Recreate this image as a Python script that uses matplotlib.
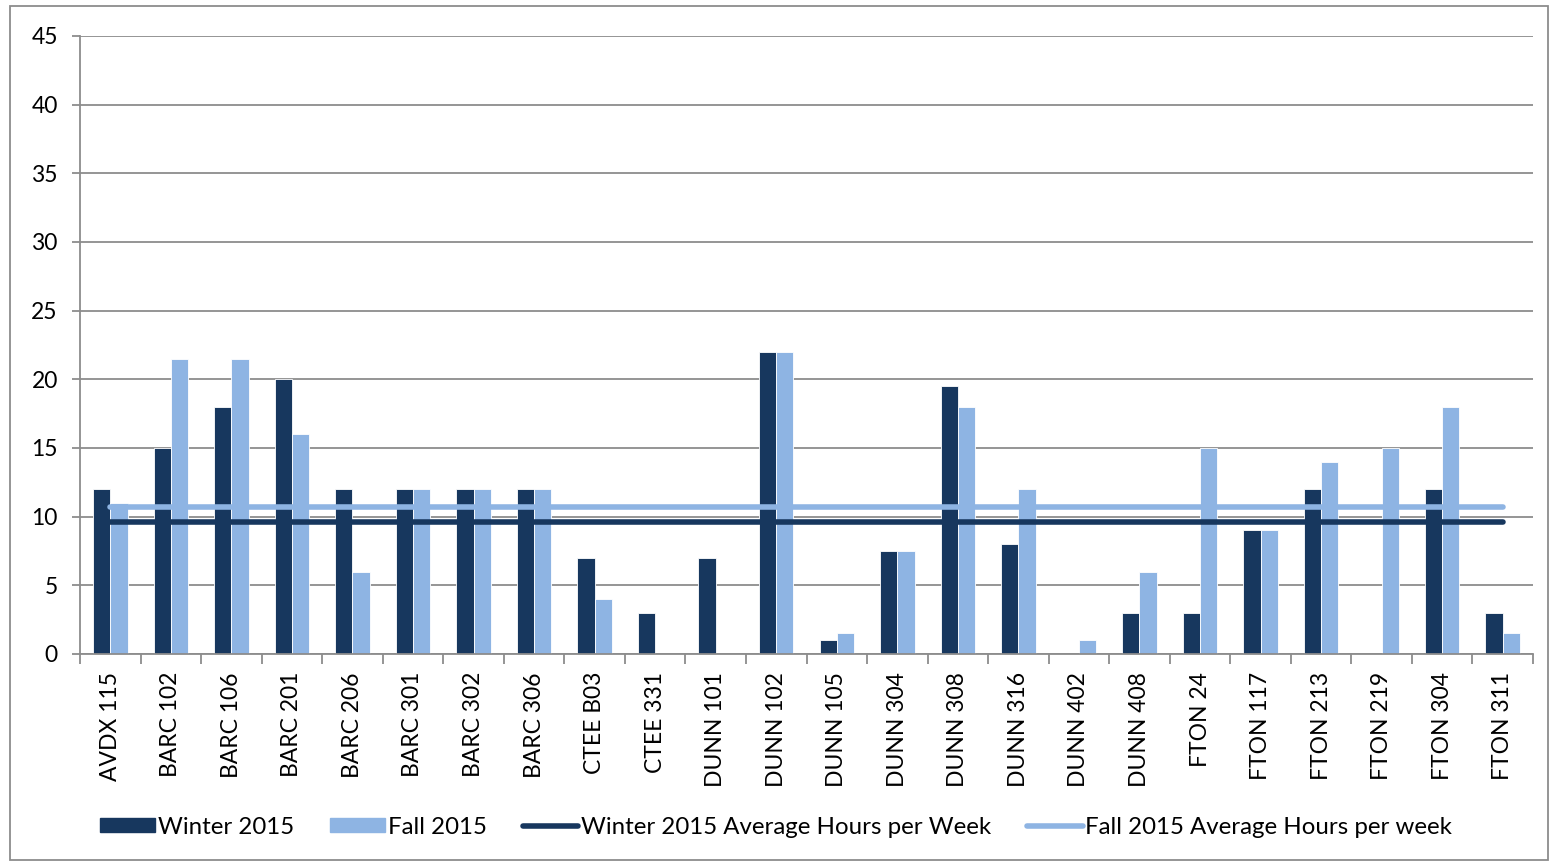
import matplotlib.pyplot as plt
import numpy as np
from matplotlib.patches import Rectangle
from matplotlib.lines import Line2D

rooms = ["AVDX 115", "BARC 102", "BARC 106", "BARC 201", "BARC 206", "BARC 301",
         "BARC 302", "BARC 306", "CTEE B03", "CTEE 331", "DUNN 101", "DUNN 102",
         "DUNN 105", "DUNN 304", "DUNN 308", "DUNN 316", "DUNN 402", "DUNN 408",
         "FTON 24", "FTON 117", "FTON 213", "FTON 219", "FTON 304", "FTON 311"]
winter = [12, 15, 18, 20, 12, 12, 12, 12, 7, 3, 7, 22,
          1, 7.5, 19.5, 8, 0, 3, 3, 9, 12, 0, 12, 3]
fall = [11, 21.5, 21.5, 16, 6, 12, 12, 12, 4, 0, 0, 22,
        1.5, 7.5, 18, 12, 1, 6, 15, 9, 14, 15, 18, 1.5]
winter_avg = 9.6
fall_avg = 10.7

dark = "#17375E"
light = "#8EB4E3"
grid_c = "#8C8C8C"

plt.rcParams['font.family'] = ['Lato', 'DejaVu Sans']

fig = plt.figure(figsize=(15.52, 8.64), dpi=100)
ax = fig.add_axes([80 / 1552, 1 - 654 / 864, 1453 / 1552, 618 / 864])

x = np.arange(len(rooms))
w = 0.285
ax.bar(x - w / 2, winter, w, color=dark, edgecolor="white", linewidth=0.6, zorder=2)
ax.bar(x + w / 2, fall, w, color=light, edgecolor="white", linewidth=0.6, zorder=2)
ax.plot([x[0], x[-1]], [winter_avg] * 2, color=dark, lw=4, solid_capstyle="round", zorder=3)
ax.plot([x[0], x[-1]], [fall_avg] * 2, color=light, lw=4, solid_capstyle="round", zorder=3)

ax.set_xlim(-0.5, len(rooms) - 0.5)
ax.set_ylim(0, 45)
ax.set_yticks(range(0, 46, 5))
ax.yaxis.grid(True, color=grid_c, lw=1.3, zorder=0)
ax.set_axisbelow(True)

ax.set_xticks(x)
ax.set_xticklabels(rooms, rotation=90, fontsize=16.5)
ax.tick_params(axis="x", length=0, pad=13)
ax.set_xticks(np.arange(-0.5, len(rooms)), minor=True)
ax.tick_params(axis="x", which="minor", length=7, color=grid_c, width=1.3)
ax.tick_params(axis="y", length=6, color=grid_c, width=1.3, labelsize=16.5, pad=10)

for s in ["top", "right"]:
    ax.spines[s].set_visible(False)
for s in ["left", "bottom"]:
    ax.spines[s].set_color(grid_c)
    ax.spines[s].set_linewidth(1.3)

handles = [Rectangle((0, 0), 1, 1, color=dark),
           Rectangle((0, 0), 1, 1, color=light),
           Line2D([], [], color=dark, lw=4, solid_capstyle="round"),
           Line2D([], [], color=light, lw=4, solid_capstyle="round")]
labels = ["Winter 2015", "Fall 2015", "Winter 2015 Average Hours per Week",
          "Fall 2015 Average Hours per week"]
fig.legend(handles, labels, loc="center", bbox_to_anchor=(0.5, 1 - 827 / 864),
           ncol=4, frameon=False, fontsize=17.3, handlelength=2.3, handleheight=0.55,
           handletextpad=0.12, columnspacing=1.5)

fig.patches.append(Rectangle((10 / 1552, 4 / 864), 1538 / 1552, 854 / 864,
                             transform=fig.transFigure, fill=False,
                             edgecolor=grid_c, lw=1.3))

plt.savefig("out.png", dpi=100)
